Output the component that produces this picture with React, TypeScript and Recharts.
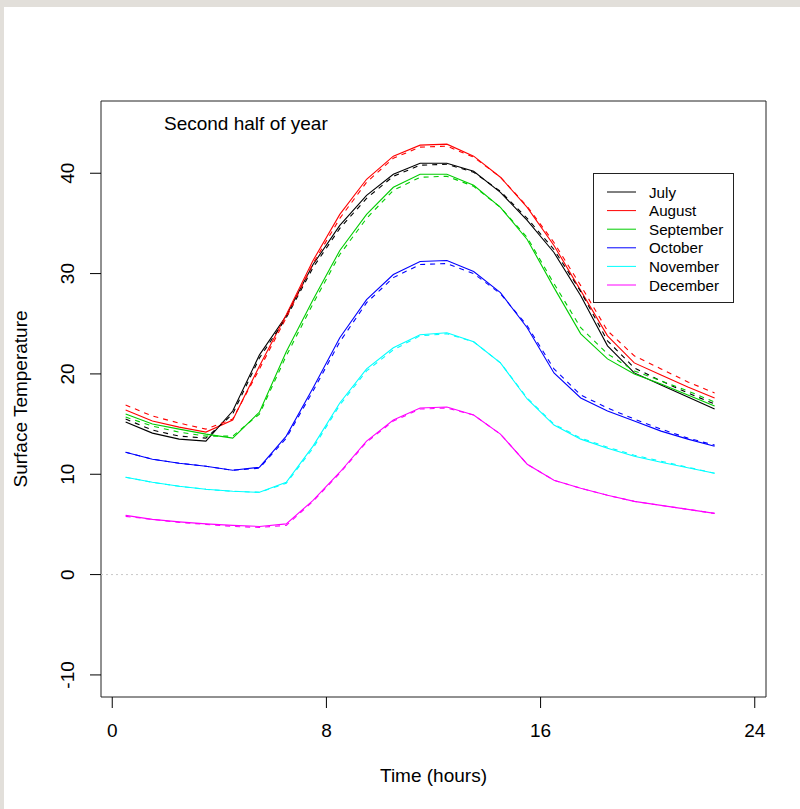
import React from 'react';
import { LineChart, Line, XAxis, YAxis, ReferenceLine, ReferenceArea } from 'recharts';

const FONT = '"Liberation Sans", Arial, Helvetica, sans-serif';

// hour of day for each reading
const hours = [0.5, 1.5, 2.5, 3.5, 4.5, 5.5, 6.5, 7.5, 8.5, 9.5, 10.5, 11.5, 12.5, 13.5, 14.5, 15.5, 16.5, 17.5, 18.5, 19.5, 20.5, 21.5, 22.5];

const months = ['July', 'August', 'September', 'October', 'November', 'December'];
const monthColors = ['#000000', '#FF0000', '#00CD00', '#0000FF', '#00FFFF', '#FF00FF'];

// solid = first series, dashed = second series for each month
const julySolid = [15.2, 14.1, 13.5, 13.3, 16.3, 21.9, 25.8, 30.9, 34.8, 37.8, 39.9, 41.0, 41.0, 40.2, 38.1, 35.3, 32.1, 27.8, 22.8, 20.1, 18.9, 17.7, 16.5];
const julyDashed = [15.5, 14.4, 13.8, 13.6, 16.0, 21.6, 25.6, 30.6, 34.5, 37.5, 39.7, 40.8, 40.9, 40.1, 38.2, 35.5, 32.4, 28.2, 23.3, 20.6, 19.3, 18.1, 17.0];
const augustSolid = [16.4, 15.3, 14.7, 14.2, 15.4, 20.8, 25.9, 31.3, 35.9, 39.4, 41.7, 42.8, 42.9, 41.7, 39.6, 36.6, 32.8, 28.3, 23.8, 21.1, 19.9, 18.7, 17.6];
const augustDashed = [16.9, 15.8, 15.1, 14.5, 15.5, 20.5, 25.6, 31.0, 35.5, 39.1, 41.5, 42.6, 42.7, 41.6, 39.6, 36.7, 33.1, 28.8, 24.3, 21.8, 20.5, 19.2, 18.1];
const septemberSolid = [16.0, 15.0, 14.5, 14.0, 13.6, 16.2, 22.2, 27.4, 32.3, 35.9, 38.6, 39.9, 39.9, 38.8, 36.6, 33.4, 28.6, 24.0, 21.5, 20.0, 19.0, 17.9, 16.8];
const septemberDashed = [15.7, 14.8, 14.2, 13.8, 13.8, 16.0, 21.8, 27.0, 31.9, 35.5, 38.3, 39.6, 39.7, 38.7, 36.6, 33.6, 29.0, 24.6, 22.0, 20.3, 19.3, 18.3, 17.2];
const octoberSolid = [12.2, 11.5, 11.1, 10.8, 10.4, 10.7, 13.8, 18.6, 23.6, 27.4, 29.9, 31.2, 31.3, 30.2, 28.1, 24.6, 20.1, 17.6, 16.3, 15.3, 14.3, 13.5, 12.8];
const octoberDashed = [12.2, 11.5, 11.1, 10.8, 10.4, 10.6, 13.6, 18.3, 23.2, 27.1, 29.6, 30.9, 31.0, 30.0, 28.0, 24.8, 20.5, 17.9, 16.6, 15.5, 14.5, 13.6, 12.9];
const novemberSolid = [9.7, 9.2, 8.8, 8.5, 8.3, 8.2, 9.2, 12.8, 17.1, 20.5, 22.6, 23.9, 24.1, 23.2, 21.1, 17.5, 14.9, 13.5, 12.6, 11.8, 11.2, 10.65, 10.1];
const novemberDashed = [9.7, 9.2, 8.8, 8.5, 8.3, 8.2, 9.1, 12.6, 16.9, 20.3, 22.4, 23.8, 24.0, 23.2, 21.1, 17.6, 15.0, 13.6, 12.7, 11.9, 11.3, 10.7, 10.1];
const decemberSolid = [5.9, 5.5, 5.25, 5.05, 4.9, 4.8, 5.05, 7.4, 10.2, 13.3, 15.4, 16.6, 16.7, 15.9, 14.0, 11.0, 9.4, 8.6, 7.9, 7.3, 6.9, 6.5, 6.1];
const decemberDashed = [5.8, 5.5, 5.2, 5.0, 4.8, 4.7, 4.9, 7.3, 10.1, 13.2, 15.3, 16.5, 16.6, 15.9, 14.0, 11.0, 9.4, 8.6, 7.9, 7.3, 6.9, 6.5, 6.1];

const solidSeries = [julySolid, augustSolid, septemberSolid, octoberSolid, novemberSolid, decemberSolid];
const dashedSeries = [julyDashed, augustDashed, septemberDashed, octoberDashed, novemberDashed, decemberDashed];

const xTicks = [0, 8, 16, 24];
const yTicks = [-10, 0, 10, 20, 30, 40];

const data = hours.map((hour, i) => {
  const row: Record<string, number> = { hour };
  months.forEach((m, k) => {
    row[m + '_a'] = solidSeries[k][i];
    row[m + '_b'] = dashedSeries[k][i];
  });
  return row;
});

const YTick = (props: any) => {
  const { x, y, payload } = props;
  return (
    <text x={x} y={y} transform={`rotate(-90 ${x} ${y})`} textAnchor="middle" fontSize={19} fontFamily={FONT} fill="#000">
      {payload.value}
    </text>
  );
};

// legend drawn as a plain box, like R's legend()
const LegendBox = () => (
  <g transform="translate(593 173)">
    <rect x={0.5} y={0.5} width={140} height={129} fill="#fff" stroke="#222" />
    {months.map((m, i) => {
      const y = 19 + i * 18.6;
      return (
        <g key={m}>
          <line x1={14} x2={43} y1={y} y2={y} stroke={monthColors[i]} strokeWidth={1} />
          <text x={56} y={y} dominantBaseline="central" fontSize={15.2} fontFamily={FONT} fill="#000">{m}</text>
        </g>
      );
    })}
  </g>
);

export default function App() {
  return (
    <div style={{ position: 'absolute', left: 0, top: 0, width: 800, height: 809, background: '#e2dfda', overflow: 'hidden' }}>
      <div style={{ position: 'absolute', left: 4, top: 7, width: 796, height: 802, background: '#fff' }} />
      <div style={{ position: 'absolute', left: 0, top: 0 }}>
        <LineChart width={800} height={809} data={data} margin={{ top: 101, right: 34, bottom: 52, left: 41 }}>
          <XAxis
            type="number"
            dataKey="hour"
            domain={[-0.42, 24.42]}
            allowDataOverflow
            ticks={xTicks}
            interval={0}
            axisLine={false}
            tickLine={{ stroke: '#000' }}
            tickSize={11}
            tickMargin={16}
            height={60}
            tick={{ fontSize: 19, fontFamily: FONT, fill: '#000' }}
          />
          <YAxis
            type="number"
            domain={[-12.2, 47.2]}
            allowDataOverflow
            ticks={yTicks}
            interval={0}
            axisLine={false}
            tickLine={{ stroke: '#000' }}
            tickSize={11}
            tickMargin={16}
            width={60}
            tick={<YTick />}
          />
          <ReferenceLine y={0} stroke="#c8c8c8" strokeDasharray="2 3" />
          {months.map((m, k) => (
            <Line key={m + '_a'} dataKey={m + '_a'} type="linear" stroke={monthColors[k]} strokeWidth={1.1} dot={false} activeDot={false} isAnimationActive={false} />
          ))}
          {months.map((m, k) => (
            <Line key={m + '_b'} dataKey={m + '_b'} type="linear" stroke={monthColors[k]} strokeWidth={1.1} strokeDasharray="5 5" dot={false} activeDot={false} isAnimationActive={false} />
          ))}
          <ReferenceArea x1={-0.42} x2={24.42} y1={-12.2} y2={47.2} fill="none" stroke="#222" strokeWidth={1} ifOverflow="visible" />
        </LineChart>
      </div>
      <svg width={800} height={809} style={{ position: 'absolute', left: 0, top: 0, pointerEvents: 'none' }}>
        <LegendBox />
        <text x={164} y={129.5} fontSize={19} fontFamily={FONT} fill="#000">Second half of year</text>
        <text x={433.5} y={782} fontSize={19} fontFamily={FONT} fill="#000" textAnchor="middle">Time (hours)</text>
        <text x={27} y={399} fontSize={19} fontFamily={FONT} fill="#000" textAnchor="middle" transform="rotate(-90 27 399)">Surface Temperature</text>
      </svg>
    </div>
  );
}
